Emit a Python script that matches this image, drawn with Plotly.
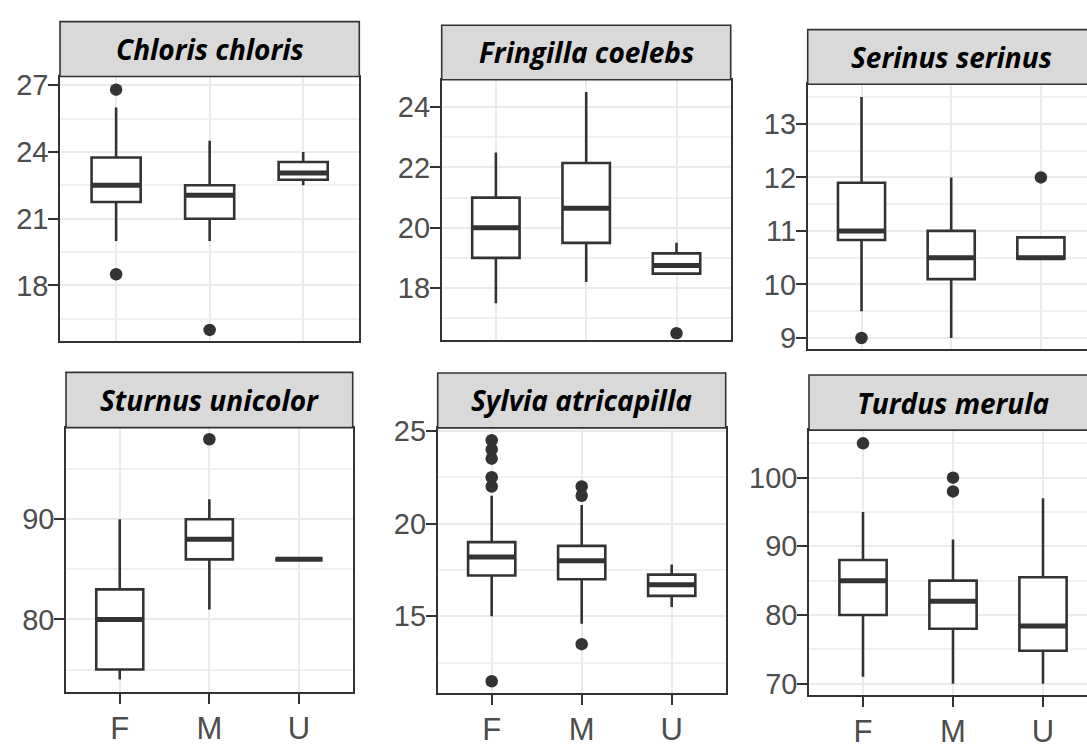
import plotly.graph_objects as go

W, H = 1087, 749

SEX = ["F", "M", "U"]

# ---- data ----
CHLORIS_LOW = [20.0, 20.0, 22.5]
CHLORIS_Q1 = [21.75, 21.0, 22.75]
CHLORIS_MED = [22.5, 22.05, 23.05]
CHLORIS_Q3 = [23.75, 22.5, 23.55]
CHLORIS_HIGH = [26.0, 24.5, 24.0]
CHLORIS_OUT_X = ["F", "F", "M"]
CHLORIS_OUT_Y = [26.8, 18.5, 16.0]

FRINGILLA_LOW = [17.5, 18.2, 18.48]
FRINGILLA_Q1 = [19.0, 19.5, 18.48]
FRINGILLA_MED = [20.0, 20.65, 18.75]
FRINGILLA_Q3 = [21.0, 22.15, 19.15]
FRINGILLA_HIGH = [22.5, 24.5, 19.5]
FRINGILLA_OUT_X = ["U"]
FRINGILLA_OUT_Y = [16.5]

SERINUS_LOW = [9.5, 9.0, 10.48]
SERINUS_Q1 = [10.83, 10.1, 10.48]
SERINUS_MED = [11.0, 10.5, 10.5]
SERINUS_Q3 = [11.9, 11.0, 10.88]
SERINUS_HIGH = [13.5, 12.0, 10.88]
SERINUS_OUT_X = ["F", "U"]
SERINUS_OUT_Y = [9.0, 12.0]

STURNUS_LOW = [74.0, 81.0, 86.0]
STURNUS_Q1 = [75.0, 86.0, 86.0]
STURNUS_MED = [80.0, 88.0, 86.0]
STURNUS_Q3 = [83.0, 90.0, 86.0]
STURNUS_HIGH = [90.0, 92.0, 86.0]
STURNUS_OUT_X = ["M"]
STURNUS_OUT_Y = [98.0]

SYLVIA_LOW = [15.0, 14.6, 15.5]
SYLVIA_Q1 = [17.2, 17.0, 16.1]
SYLVIA_MED = [18.2, 18.0, 16.7]
SYLVIA_Q3 = [19.0, 18.8, 17.25]
SYLVIA_HIGH = [21.5, 21.0, 17.8]
SYLVIA_OUT_X = ["F", "F", "F", "F", "F", "F", "M", "M", "M"]
SYLVIA_OUT_Y = [24.5, 24.0, 23.5, 22.5, 22.0, 11.5, 22.0, 21.5, 13.5]

TURDUS_LOW = [71.0, 70.0, 70.0]
TURDUS_Q1 = [80.0, 78.0, 74.8]
TURDUS_MED = [85.0, 82.0, 78.4]
TURDUS_Q3 = [88.0, 85.0, 85.5]
TURDUS_HIGH = [95.0, 91.0, 97.0]
TURDUS_OUT_X = ["F", "M", "M"]
TURDUS_OUT_Y = [105.0, 100.0, 98.0]

TITLES = ["Chloris chloris", "Fringilla coelebs", "Serinus serinus",
          "Sturnus unicolor", "Sylvia atricapilla", "Turdus merula"]
Y_TICKS = [[18, 21, 24, 27], [18, 20, 22, 24], [9, 10, 11, 12, 13],
           [80, 90], [15, 20, 25], [70, 80, 90, 100]]
Y_MINOR = [[16.5, 19.5, 22.5, 25.5], [17, 19, 21, 23], [9.5, 10.5, 11.5, 12.5, 13.5],
           [75, 85, 95], [12.5, 17.5, 22.5], [75, 85, 95, 105]]
Y_RANGES = [[15.49, 27.39], [16.29, 24.91], [8.79, 13.74],
            [72.76, 99.16], [10.85, 25.16], [68.37, 106.93]]

PANELS = [
    (CHLORIS_LOW, CHLORIS_Q1, CHLORIS_MED, CHLORIS_Q3, CHLORIS_HIGH, CHLORIS_OUT_X, CHLORIS_OUT_Y),
    (FRINGILLA_LOW, FRINGILLA_Q1, FRINGILLA_MED, FRINGILLA_Q3, FRINGILLA_HIGH, FRINGILLA_OUT_X, FRINGILLA_OUT_Y),
    (SERINUS_LOW, SERINUS_Q1, SERINUS_MED, SERINUS_Q3, SERINUS_HIGH, SERINUS_OUT_X, SERINUS_OUT_Y),
    (STURNUS_LOW, STURNUS_Q1, STURNUS_MED, STURNUS_Q3, STURNUS_HIGH, STURNUS_OUT_X, STURNUS_OUT_Y),
    (SYLVIA_LOW, SYLVIA_Q1, SYLVIA_MED, SYLVIA_Q3, SYLVIA_HIGH, SYLVIA_OUT_X, SYLVIA_OUT_Y),
    (TURDUS_LOW, TURDUS_Q1, TURDUS_MED, TURDUS_Q3, TURDUS_HIGH, TURDUS_OUT_X, TURDUS_OUT_Y),
]

# ---- layout geometry (pixels): left, right(visible), full right, plot top, plot bottom, strip top ----
GEOM = [
    (60, 359.3, 359.3, 66, 341, 9),
    (441.7, 730.7, 730.7, 69.3, 339.3, 12.7),
    (807.7, 1087, 1094.7, 74, 349.3, 17.3),
    (66, 352.7, 352.7, 430.7, 705.3, 373.3),
    (437.7, 725.7, 725.7, 431, 706.7, 374),
    (809, 1087, 1097, 433.3, 708.3, 376),
]

DARK = "#333333"
GRID = "#EBEBEB"
TICKC = "#4D4D4D"

fig = go.Figure()
layout = dict(
    width=W, height=H, margin=dict(l=0, r=0, t=0, b=0),
    paper_bgcolor="white", plot_bgcolor="white",
    showlegend=False, boxgap=0.25, boxmode="overlay",
    shapes=[], annotations=[],
)

for i, (lo, q1, med, q3, hi, ox, oy) in enumerate(PANELS):
    n = i + 1
    xa = "x" if n == 1 else f"x{n}"
    ya = "y" if n == 1 else f"y{n}"
    left, right, fullright, ptop, pbot, stop = GEOM[i]
    cut = fullright > right
    unit = (fullright - left) / 3.2
    xmax = 2.6 - (fullright - right) / unit

    fig.add_trace(go.Box(
        x=SEX, q1=q1, median=med, q3=q3, lowerfence=lo, upperfence=hi,
        xaxis=xa, yaxis=ya, fillcolor="white", line=dict(color=DARK, width=2.6),
        whiskerwidth=0, boxpoints=False, hoverinfo="skip",
    ))
    # thick median bar (ggplot style)
    fig.add_trace(go.Box(
        x=SEX, q1=med, median=med, q3=med, lowerfence=med, upperfence=med,
        xaxis=xa, yaxis=ya, fillcolor="rgba(0,0,0,0)", line=dict(color=DARK, width=5),
        whiskerwidth=0, boxpoints=False, hoverinfo="skip",
    ))
    fig.add_trace(go.Scatter(
        x=ox, y=oy, mode="markers", xaxis=xa, yaxis=ya,
        marker=dict(color=DARK, size=12.5, line=dict(width=0)), hoverinfo="skip",
    ))

    bottom_row = i >= 3
    xkey = "xaxis" if n == 1 else f"xaxis{n}"
    ykey = "yaxis" if n == 1 else f"yaxis{n}"
    layout[xkey] = dict(
        domain=[left / W, right / W], anchor=ya, type="category",
        categoryorder="array", categoryarray=SEX, range=[-0.6, xmax],
        showgrid=True, gridcolor=GRID, gridwidth=2, zeroline=False,
        showline=True, linecolor=DARK, linewidth=1.6, mirror=True,
        ticks="outside" if bottom_row else "", ticklen=10, tickwidth=2.4, tickcolor=DARK,
        showticklabels=bottom_row, ticklabelstandoff=-2,
        tickfont=dict(family="Liberation Sans, Arial", size=31, color=TICKC),
        fixedrange=True,
    )
    layout[ykey] = dict(
        domain=[1 - pbot / H, 1 - ptop / H], anchor=xa, range=Y_RANGES[i],
        tickmode="array", tickvals=Y_TICKS[i],
        showgrid=True, gridcolor=GRID, gridwidth=2, zeroline=False,
        minor=dict(tickmode="array", tickvals=Y_MINOR[i], showgrid=True,
                   gridcolor="#F0F0F0", gridwidth=1.5, ticks=""),
        showline=True, linecolor=DARK, linewidth=1.6, mirror=not cut,
        ticks="outside", ticklen=10, tickwidth=2.4, tickcolor=DARK,
        ticklabelstandoff=-6,
        tickfont=dict(family="Liberation Sans, Arial", size=29, color=TICKC),
        fixedrange=True,
    )
    # strip
    layout["shapes"].append(dict(
        type="rect", xref="paper", yref="paper",
        x0=left / W, x1=(fullright + (3 if cut else 0)) / W,
        y0=1 - ptop / H, y1=1 - stop / H,
        fillcolor="#D9D9D9", line=dict(color=DARK, width=1.6), layer="above",
    ))
    layout["annotations"].append(dict(
        text=f"<b><i>{TITLES[i]}</i></b>", xref="paper", yref="paper",
        x=(left + fullright) / 2 / W, y=1 - (ptop + stop) / 2 / H,
        xanchor="center", yanchor="middle", showarrow=False,
        font=dict(family="Open Sans, Lato, sans-serif", size=28, color="black"),
    ))

fig.update_layout(**layout)
fig.write_html("out.html")
